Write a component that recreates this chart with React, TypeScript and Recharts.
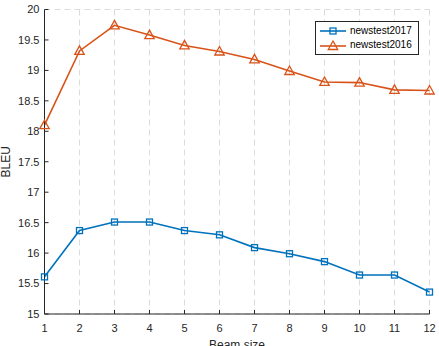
import React from 'react';
import { LineChart, Line, XAxis, YAxis, CartesianGrid, Legend, Label } from 'recharts';

const beamSizes = [1, 2, 3, 4, 5, 6, 7, 8, 9, 10, 11, 12];
const newstest2017 = [15.61, 16.37, 16.51, 16.51, 16.37, 16.3, 16.09, 15.99, 15.86, 15.64, 15.64, 15.36];
const newstest2016 = [18.1, 19.32, 19.74, 19.58, 19.41, 19.31, 19.18, 18.99, 18.81, 18.8, 18.68, 18.67];
const yTicks = [15, 15.5, 16, 16.5, 17, 17.5, 18, 18.5, 19, 19.5, 20];
const xTicks = beamSizes;

const data = beamSizes.map((b, i) => ({ beam: b, n17: newstest2017[i], n16: newstest2016[i] }));

const BLUE = '#0072BD';
const ORANGE = '#D95319';
const AXIS = '#262626';
const FONT = '"Liberation Sans", Arial, Helvetica, sans-serif';

const SquareDot = (props: any) => {
  const { cx, cy, index } = props;
  if (cx == null || cy == null) return <g key={`s${index}`} />;
  return <rect key={`s${index}`} x={cx - 3} y={cy - 3} width={6} height={6} fill="none" stroke={BLUE} strokeWidth={1.3} />;
};

const TriDot = (props: any) => {
  const { cx, cy, index } = props;
  if (cx == null || cy == null) return <g key={`t${index}`} />;
  const pts = `${cx},${cy - 5} ${cx + 4.7},${cy + 3.5} ${cx - 4.7},${cy + 3.5}`;
  return <polygon key={`t${index}`} points={pts} fill="none" stroke={ORANGE} strokeWidth={1.3} />;
};

const BottomTick = (props: any) => {
  const { x, y, payload } = props;
  return (
    <g>
      <line x1={x} y1={y} x2={x} y2={y - 4} stroke={AXIS} strokeWidth={1} />
      <text x={x} y={y + 14} dy="0.35em" textAnchor="middle" fill={AXIS} fontSize={11} fontFamily={FONT}>
        {payload.value}
      </text>
    </g>
  );
};

const TopTick = (props: any) => {
  const { x, y } = props;
  return <line x1={x} y1={y} x2={x} y2={y + 4} stroke={AXIS} strokeWidth={1} />;
};

const LeftTick = (props: any) => {
  const { x, y, payload } = props;
  return (
    <g>
      <line x1={x} y1={y} x2={x + 4} y2={y} stroke={AXIS} strokeWidth={1} />
      <text x={x - 5} y={y} dy="0.35em" textAnchor="end" fill={AXIS} fontSize={11} fontFamily={FONT}>
        {payload.value}
      </text>
    </g>
  );
};

const RightTick = (props: any) => {
  const { x, y } = props;
  return <line x1={x} y1={y} x2={x - 4} y2={y} stroke={AXIS} strokeWidth={1} />;
};

const LegendContent = () => (
  <div
    style={{
      border: `1px solid ${AXIS}`,
      background: '#fff',
      padding: '2px 6px 2px 2px',
      fontFamily: FONT,
      fontSize: 10,
      color: '#000',
      lineHeight: '14px',
    }}
  >
    <div style={{ display: 'flex', alignItems: 'center' }}>
      <svg width={30} height={12}>
        <line x1={2} y1={6} x2={28} y2={6} stroke={BLUE} strokeWidth={1.6} />
        <rect x={12} y={3} width={6} height={6} fill="none" stroke={BLUE} strokeWidth={1.3} />
      </svg>
      <span style={{ marginLeft: 2 }}>newstest2017</span>
    </div>
    <div style={{ display: 'flex', alignItems: 'center' }}>
      <svg width={30} height={12}>
        <line x1={2} y1={7} x2={28} y2={7} stroke={ORANGE} strokeWidth={1.6} />
        <polygon points="15,2 19.7,10.5 10.3,10.5" fill="none" stroke={ORANGE} strokeWidth={1.3} />
      </svg>
      <span style={{ marginLeft: 2 }}>newstest2016</span>
    </div>
  </div>
);

export default function App() {
  return (
    <div style={{ position: 'absolute', left: 0, top: 0, width: 439, height: 346, background: '#fff' }}>
      <LineChart
        width={439}
        height={346}
        data={data}
        margin={{ top: 9.5, right: 9.5, left: 0.5, bottom: 0 }}
      >
        <CartesianGrid stroke="#dcdcdc" strokeDasharray="6 4" />
        <XAxis
          xAxisId="b"
          dataKey="beam"
          type="number"
          domain={[1, 12]}
          ticks={xTicks}
          height={32}
          tickSize={0}
          tickMargin={0}
          tick={<BottomTick />}
          stroke={AXIS}
          axisLine={{ stroke: AXIS, strokeWidth: 1 }}
          tickLine={false}
          interval={0}
        >
          <Label value="Beam size" position="bottom" offset={-6} fill={AXIS} fontSize={12} fontFamily={FONT} />
        </XAxis>
        <XAxis
          xAxisId="t"
          orientation="top"
          dataKey="beam"
          type="number"
          domain={[1, 12]}
          ticks={xTicks}
          height={0}
          tickSize={0}
          tickMargin={0}
          tick={<TopTick />}
          axisLine={{ stroke: AXIS, strokeWidth: 1 }}
          tickLine={false}
          interval={0}
        />
        <YAxis
          yAxisId="l"
          type="number"
          domain={[15, 20]}
          ticks={yTicks}
          width={44}
          tickSize={0}
          tickMargin={0}
          tick={<LeftTick />}
          axisLine={{ stroke: AXIS, strokeWidth: 1 }}
          tickLine={false}
          interval={0}
        >
          <Label
            value="BLEU"
            angle={-90}
            position="insideLeft"
            offset={5}
            fill={AXIS}
            fontSize={12}
            fontFamily={FONT}
            style={{ textAnchor: 'middle' }}
          />
        </YAxis>
        <YAxis
          yAxisId="r"
          orientation="right"
          type="number"
          domain={[15, 20]}
          ticks={yTicks}
          width={0}
          tickSize={0}
          tickMargin={0}
          tick={<RightTick />}
          axisLine={{ stroke: AXIS, strokeWidth: 1 }}
          tickLine={false}
          interval={0}
        />
        <Legend
          layout="vertical"
          align="center"
          verticalAlign="middle"
          content={<LegendContent />}
          wrapperStyle={{ left: 315, top: 21, width: 'auto', height: 'auto' }}
        />
        <Line
          xAxisId="b"
          yAxisId="l"
          type="linear"
          dataKey="n17"
          stroke={BLUE}
          strokeWidth={1.6}
          dot={SquareDot}
          activeDot={false}
          isAnimationActive={false}
        />
        <Line
          xAxisId="b"
          yAxisId="l"
          type="linear"
          dataKey="n16"
          stroke={ORANGE}
          strokeWidth={1.6}
          dot={TriDot}
          activeDot={false}
          isAnimationActive={false}
        />
      </LineChart>
    </div>
  );
}
